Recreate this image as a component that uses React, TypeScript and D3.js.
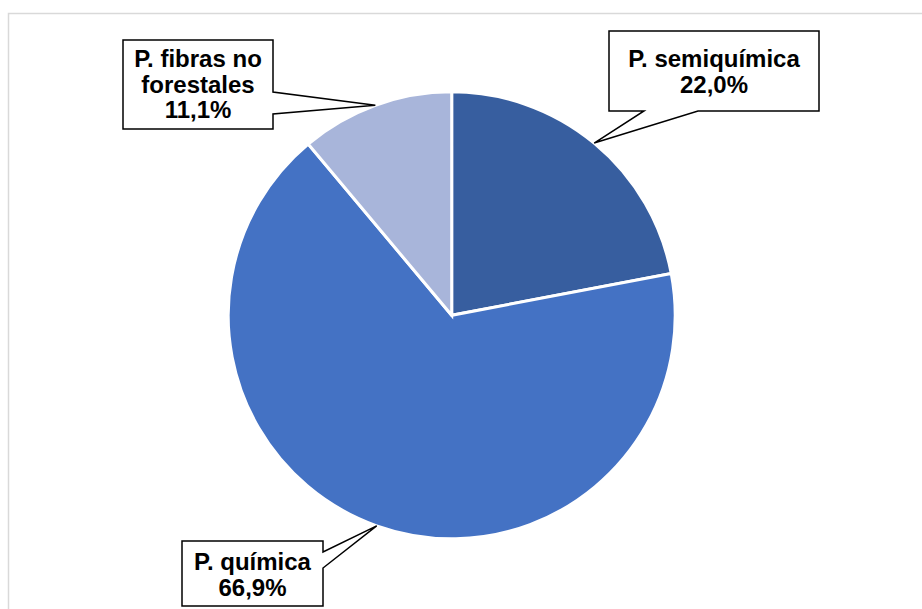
import React from "react";
import * as d3 from "d3";

const categories = ["P. semiquímica", "P. química", "P. fibras no forestales"];
const values = [22.0, 66.9, 11.1];
const labelLines = [
  ["P. semiquímica", "22,0%"],
  ["P. química", "66,9%"],
  ["P. fibras no", "forestales", "11,1%"],
];
const colors = ["#375E9F", "#4472C4", "#A8B5DA"];

// callout layout: box + pointer base points
const callouts = [
  { x0: 609, y0: 31, x1: 819, y1: 111, base: [[698, 111], [644, 111]], baseline0: 67 },
  { x0: 182, y0: 541, x1: 323, y1: 606, base: [[323, 552], [323, 568]], baseline0: 570 },
  { x0: 123, y0: 40, x1: 273, y1: 129, base: [[273, 92], [273, 114]], baseline0: 67 },
];

const W = 922;
const H = 609;
const cx = 451.7;
const cy = 315.3;
const R = 223.5;

export default function App() {
  const pie = d3.pie<number>().sort(null).value((d) => d);
  const arcs = pie(values);
  const arc = d3.arc<d3.PieArcDatum<number>>().innerRadius(0).outerRadius(R);
  const edge = d3.arc<d3.PieArcDatum<number>>().innerRadius(R).outerRadius(R);
  const fontFamily = "'Liberation Sans', Arial, sans-serif";
  return (
    <svg
      width={W}
      height={H}
      style={{ position: "absolute", left: 0, top: 0, background: "#fff" }}
    >
      <rect x={8.5} y={13.5} width={W + 20} height={H + 20} fill="#fff" stroke="#D9D9D9" strokeWidth={1.5} />
      <g transform={`translate(${cx},${cy})`}>
        {arcs.map((a, i) => (
          <path key={categories[i]} d={arc(a) || ""} fill={colors[i]} stroke="#fff" strokeWidth={3} strokeLinejoin="miter" />
        ))}
      </g>
      {arcs.map((a, i) => {
        const c = callouts[i];
        const [tx, ty] = edge.centroid(a);
        const tip: [number, number] = [tx + cx, ty + cy];
        const b = c.base;
        let pts: [number, number][] = [];
        if (i === 0) {
          pts = [
            [c.x0, c.y0], [c.x1, c.y0], [c.x1, c.y1],
            [b[0][0], b[0][1]], tip, [b[1][0], b[1][1]],
            [c.x0, c.y1],
          ];
        } else {
          pts = [
            [c.x0, c.y0], [c.x1, c.y0],
            [b[0][0], b[0][1]], tip, [b[1][0], b[1][1]],
            [c.x1, c.y1], [c.x0, c.y1],
          ];
        }
        const d = "M" + pts.map((p) => p.join(",")).join("L") + "Z";
        const mx = (c.x0 + c.x1) / 2;
        return (
          <g key={"lab" + i}>
            <path d={d} fill="#fff" stroke="#000" strokeWidth={1.5} strokeLinejoin="miter" />
            {labelLines[i].map((t, j) => (
              <text
                key={j}
                x={mx}
                y={c.baseline0 + j * 25.5}
                textAnchor="middle"
                fontFamily={fontFamily}
                fontWeight="bold"
                fontSize={24}
                fill="#000"
              >
                {t}
              </text>
            ))}
          </g>
        );
      })}
    </svg>
  );
}
